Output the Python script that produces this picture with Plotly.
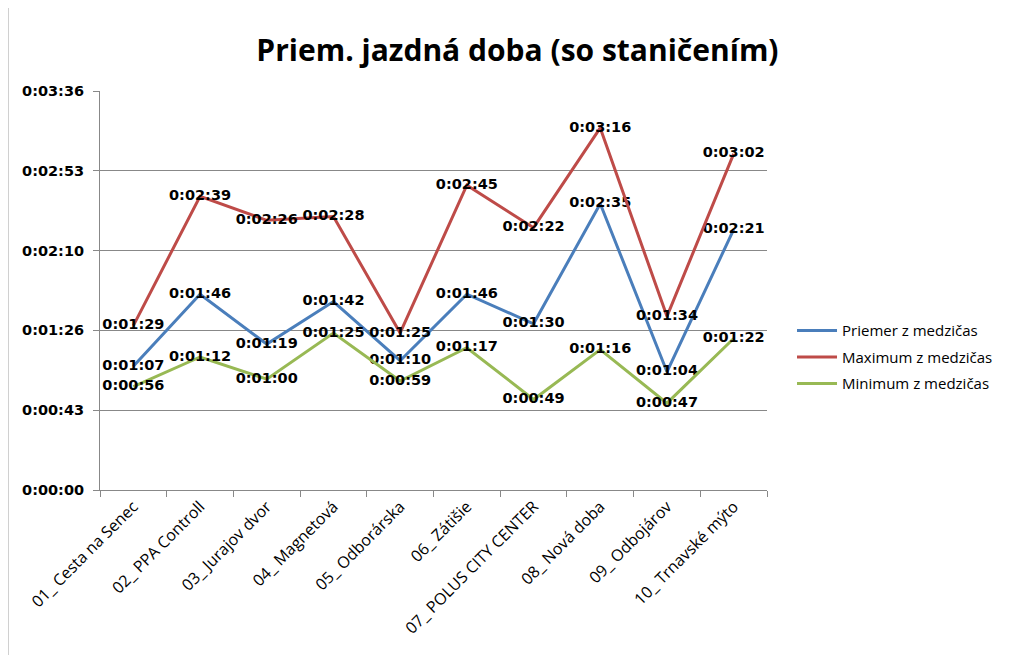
import plotly.graph_objects as go

categories = ["01_ Cesta na Senec", "02_ PPA Controll", "03_ Jurajov dvor", "04_ Magnetová",
              "05_ Odborárska", "06_ Zátišie", "07_ POLUS CITY CENTER", "08_ Nová doba",
              "09_ Odbojárov", "10_ Trnavské mýto"]
priemer = [67, 106, 79, 102, 70, 106, 90, 155, 64, 141]
maximum = [89, 159, 146, 148, 85, 165, 142, 196, 94, 182]
minimum = [56, 72, 60, 85, 59, 77, 49, 76, 47, 82]
series_names = ["Priemer z medzičas", "Maximum z medzičas", "Minimum z medzičas"]
colors = ["#4A7EBB", "#BE4B48", "#98B954"]
tick_vals = [0, 43.2, 86.4, 129.6, 172.8, 216]
tick_text = ["0:00:00", "0:00:43", "0:01:26", "0:02:10", "0:02:53", "0:03:36"]


def fmt(s):
    return "<b>%d:%02d:%02d</b>" % (s // 3600, (s % 3600) // 60, s % 60)


fig = go.Figure()
for i, (name, vals, col) in enumerate(zip(series_names, [priemer, maximum, minimum], colors)):
    fig.add_trace(go.Scatter(
        x=categories, y=vals, name=name, mode="lines+text", legendgroup="g%d" % i,
        line=dict(color=col, width=3),
        text=[fmt(v) for v in vals], textposition="middle center",
        textfont=dict(family="DejaVu Sans", size=14.5, color="#000000"),
    ))

fig.update_layout(
    width=1024, height=655,
    paper_bgcolor="white", plot_bgcolor="white",
    margin=dict(l=92, r=265, t=83, b=173),
    title=dict(text="<b>Priem. jazdná doba (so staničením)</b>", x=0.4975, xanchor="center",
               y=0.935, yanchor="middle",
               font=dict(family="Open Sans", size=30, color="#000000")),
    legend=dict(x=1.0375, y=0.333, xanchor="left", yanchor="middle",
                font=dict(family="Open Sans", size=15, color="#000000"),
                itemwidth=40, tracegroupgap=4, bgcolor="rgba(0,0,0,0)"),
    showlegend=True,
)
fig.update_xaxes(
    type="category", tickson="boundaries", ticks="outside", ticklen=6, tickcolor="#888888",
    showline=True, linecolor="#888888", linewidth=1, showgrid=False,
    tickangle=-45, tickfont=dict(family="Open Sans", size=16, color="#000000"),
)
fig.update_yaxes(
    range=[0, 216], tickmode="array", tickvals=tick_vals, ticktext=["<b>%s</b>" % t for t in tick_text],
    showgrid=True, gridcolor="#888888", gridwidth=1, ticklabelstandoff=6,
    showline=True, linecolor="#888888", linewidth=1, ticks="outside", ticklen=6, tickcolor="#888888",
    tickfont=dict(family="DejaVu Sans", size=14.5, color="#000000"), zeroline=False,
)
fig.add_shape(type="line", xref="paper", yref="paper", x0=-0.138, x1=-0.138, y0=-0.42, y1=1.24,
              line=dict(color="#999999", width=1))

fig.write_html("out.html")
